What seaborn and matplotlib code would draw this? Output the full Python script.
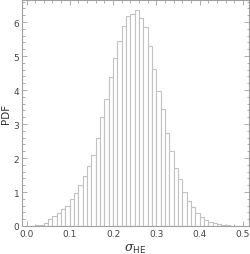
import matplotlib
matplotlib.use("Agg")
import matplotlib.pyplot as plt
import numpy as np
import pandas as pd
import seaborn as sns
from matplotlib.ticker import MultipleLocator

# bin edges: 0.00 .. 0.50, width 0.01
bin_edges = list(np.round(np.arange(0, 0.501, 0.01), 2))
bin_centers = [round(e + 0.005, 3) for e in bin_edges[:-1]]
pdf_values = [
    0.0, 0.005, 0.02, 0.04, 0.1, 0.2, 0.3, 0.37, 0.5, 0.6,
    0.78, 0.96, 1.2, 1.47, 1.76, 2.1, 2.6, 3.2, 3.73, 4.39,
    4.93, 5.44, 5.89, 6.19, 6.25, 6.35, 6.13, 5.86, 5.3, 4.62,
    3.98, 3.43, 2.73, 2.22, 1.71, 1.37, 1.0, 0.74, 0.56, 0.38,
    0.26, 0.18, 0.12, 0.08, 0.05, 0.03, 0.02, 0.01, 0.0, 0.0,
]
df = pd.DataFrame({"sigma": bin_centers, "pdf": pdf_values})

sns.set_style("ticks")
plt.rcParams["font.family"] = ["DejaVu Sans"]
plt.rcParams["mathtext.fontset"] = "custom"
plt.rcParams["mathtext.rm"] = "DejaVu Sans"
plt.rcParams["mathtext.it"] = "DejaVu Serif:italic"

fig = plt.figure(figsize=(2.51, 2.55), dpi=100)
ax = fig.add_axes([22 / 251, 28 / 255, 227 / 251, 226 / 255])

sns.histplot(data=df, x="sigma", weights="pdf", bins=bin_edges, stat="count",
             color="white", edgecolor="#c2c2c2", linewidth=0.8, alpha=1,
             ax=ax)

ax.set_xlim(-0.0104, 0.514)
ax.set_ylim(0, 6.65)
ax.xaxis.set_major_locator(MultipleLocator(0.1))
ax.xaxis.set_minor_locator(MultipleLocator(0.02))
ax.yaxis.set_major_locator(MultipleLocator(1))
ax.yaxis.set_minor_locator(MultipleLocator(0.2))

frame = "#a0a0a0"
for s in ax.spines.values():
    s.set_color(frame)
    s.set_linewidth(0.8)
ax.tick_params(which="both", direction="in", top=True, right=True,
               color=frame, width=0.6, labelsize=6.5, labelcolor="#444444",
               pad=2)
ax.tick_params(which="major", length=3.5)
ax.tick_params(which="minor", length=1.8)
ax.set_xticks([0.0, 0.1, 0.2, 0.3, 0.4, 0.5])
ax.set_xticklabels(["0.0", "0.1", "0.2", "0.3", "0.4", "0.5"])

ax.set_xlabel(r"$\sigma_{\mathrm{HE}}$", fontsize=9, color="#333333", labelpad=3)
ax.set_ylabel("PDF", fontsize=7.5, color="#333333", labelpad=2)

fig.savefig("out.png", dpi=100)
